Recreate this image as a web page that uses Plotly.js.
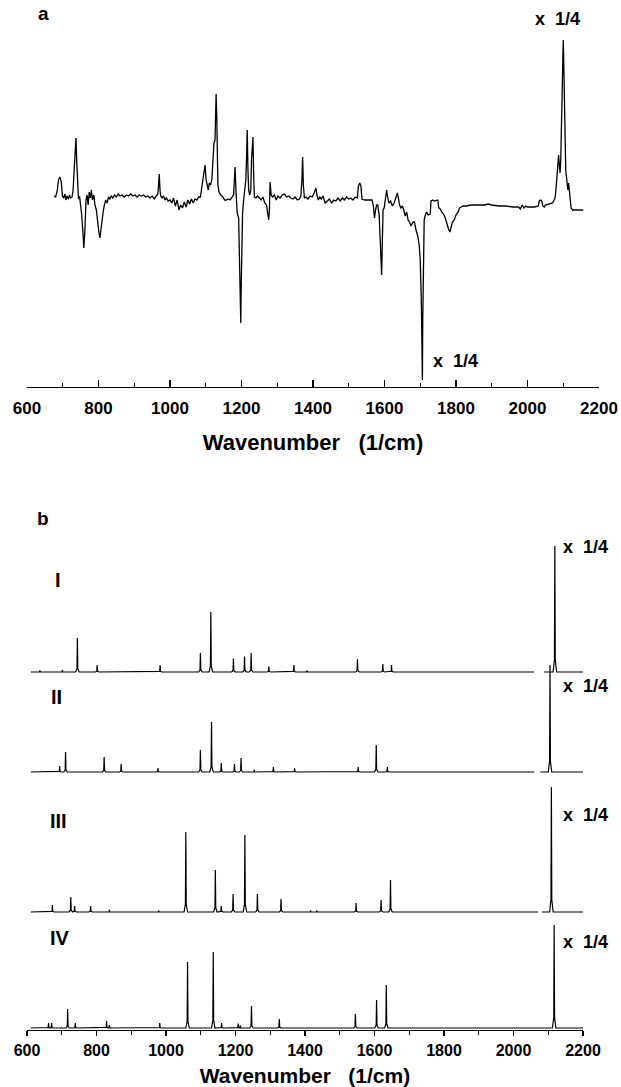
<!DOCTYPE html>
<html>
<head>
<meta charset="utf-8">
<script src="https://cdn.plot.ly/plotly-3.0.1.min.js"></script>
<style>
  html, body { margin: 0; padding: 0; background: #fff; }
  #chart { width: 621px; height: 1087px; }
</style>
</head>
<body>
<div id="chart"></div>
<script>
// ---------------- DATA ----------------
// Panel a: difference spectrum (wavenumber, signal in arbitrary units; baseline ~0)
const aWavenumber = [675,680,685,688,692,696,699,703,706,709,712,716,719,722,726,729,732,735,737,739,741,744,747,750,753,756,759,762,765,768,771,774,777,780,783,787,790,794,798,801,804,807,810,813,816,820,824,828,832,836,840,845,850,855,860,866,872,878,884,890,896,902,908,914,920,926,932,938,944,950,956,962,966,968,970,972,974,978,982,986,990,995,1000,1005,1010,1015,1020,1025,1030,1035,1040,1045,1050,1055,1060,1065,1070,1075,1080,1085,1090,1095,1098,1101,1104,1107,1110,1113,1117,1120,1123,1126,1128,1129,1131,1134,1137,1142,1148,1153,1158,1163,1168,1173,1178,1180,1182,1185,1188,1192,1195,1197,1198,1199,1201,1203,1206,1209,1212,1214,1216,1218,1220,1223,1226,1228,1230,1232,1234,1236,1240,1245,1250,1255,1260,1265,1270,1273,1276,1278,1280,1283,1287,1292,1297,1302,1308,1314,1320,1326,1332,1338,1344,1350,1356,1362,1366,1369,1371,1373,1376,1380,1386,1392,1398,1403,1406,1408,1411,1415,1419,1423,1428,1434,1440,1446,1452,1458,1464,1470,1476,1482,1488,1494,1500,1506,1512,1518,1524,1527,1531,1534,1537,1545,1555,1565,1569,1572,1575,1578,1581,1585,1588,1590,1592,1594,1596,1599,1602,1604,1606,1608,1612,1617,1622,1627,1632,1636,1639,1642,1646,1650,1654,1658,1662,1666,1670,1674,1680,1684,1688,1693,1697,1700,1703,1705,1706,1707,1709,1711,1714,1718,1722,1728,1730,1735,1740,1745,1749,1752,1756,1760,1765,1770,1775,1779,1783,1786,1790,1795,1800,1806,1810,1815,1820,1830,1840,1860,1880,1890,1900,1920,1940,1960,1975,1980,1985,1990,1995,2000,2010,2020,2030,2033,2037,2040,2043,2047,2050,2060,2070,2076,2078,2081,2083,2085,2087,2089,2091,2093,2095,2097,2099,2100,2101,2103,2105,2107,2109,2111,2113,2115,2117,2119,2122,2126,2140,2156];
const aSignal = [-1,-2,5,15,18,13,-1,-3,1,-5,-1,-4,0,-3,-2,5,25,45,57,35,10,-4,-1,-10,-20,-35,-53,-35,-5,0,-10,3,-3,5,-5,0,-10,-15,-30,-37,-43,-33,-23,-17,-11,-5,-8,-2,-4,-1,-3,0,-2,1,-1,0,-2,0,-1,1,-1,0,-2,0,-1,0,-2,-1,-3,-1,-4,-1,1,10,21,5,-1,-3,-1,-5,-3,-6,-5,-8,-3,-11,-5,-15,-10,-13,-7,-12,-5,-9,-4,-8,-4,-5,-2,-2,10,23,30,15,9,5,12,10,15,33,52,55,85,101,75,10,3,0,-2,-5,-5,-4,-5,-3,0,15,28,0,-18,-23,-65,-95,-128,-95,-55,-18,-5,5,15,35,65,25,5,0,5,35,57,58,20,-2,-3,-1,-3,-5,-2,-8,-10,-17,-25,-15,13,0,-2,0,-5,-1,-3,0,1,-2,-1,-3,-4,-2,-5,-4,-1,15,38,10,-3,-2,-4,-1,-2,2,5,7,0,-5,-2,-4,-1,-8,-6,-4,-8,-5,-6,-3,-6,-3,-5,-2,-4,-3,-5,-2,-3,9,12,9,-4,-5,-5,-5,-11,-23,-15,-10,-10,-20,-45,-70,-80,-45,-15,-13,-5,5,5,0,-8,-6,-11,-8,-3,2,-3,-10,-13,-11,-15,-21,-17,-25,-27,-31,-27,-27,-35,-41,-50,-65,-105,-145,-185,-125,-65,-25,-20,-17,-20,-19,-6,-5,-6,-5,-5,-13,-14,-17,-19,-23,-31,-34,-37,-33,-27,-25,-20,-17,-13,-12,-11,-11,-10,-10,-10,-9,-10,-11,-11,-12,-12,-14,-10,-13,-11,-12,-12,-12,-11,-6,-5,-6,-11,-12,-10,-9,-8,-4,-1,12,25,35,40,30,22,35,75,115,145,155,140,95,55,25,18,13,5,12,3,-5,-13,-15,-15,-15];

// Panel b: calculated spectra I-IV (peak positions in 1/cm, peak heights in arbitrary units)
const segI   = [611, 2059, 2088, 2205];
const peakI  = [637, 702, 745, 802, 983, 1099, 1129, 1194, 1226, 1245, 1296, 1368, 1406, 1551, 1624, 1649, 2119];
const hgtI   = [1.5, 2, 34, 7, 7, 19, 60, 13.5, 15.5, 19, 5.5, 7, 1.6, 12.7, 8, 7, 126];

const segII  = [611, 2060, 2077, 2205];
const peakII = [694, 711, 822, 871, 977, 1099, 1131, 1159, 1197, 1216, 1254, 1309, 1370, 1553, 1605, 1637, 2105];
const hgtII  = [6, 20, 15, 8, 4, 22, 50, 9, 8, 14, 2, 5, 4, 5, 27, 5, 107];

const segIII  = [611, 2071, 2082, 2200];
const peakIII = [673, 726, 737, 783, 837, 979, 1057, 1142, 1159, 1193, 1227, 1263, 1331, 1416, 1434, 1547, 1619, 1646, 2109];
const hgtIII  = [7, 15, 6, 6, 2, 1.6, 80, 42, 6, 18, 77, 18, 13, 1.6, 1.6, 9, 12, 32, 125];

const segIV  = [611, 2200];
const peakIV = [662, 671, 717, 739, 829, 837, 982, 1062, 1136, 1160, 1208, 1214, 1246, 1326, 1545, 1606, 1634, 2117];
const hgtIV  = [5, 5, 19, 5, 7, 3, 5, 66, 76, 5, 4.5, 2.5, 22, 9, 14, 28, 43, 103];

const tickVals  = [600, 800, 1000, 1200, 1400, 1600, 1800, 2000, 2200];
const tickText  = ['600', '800', '1000', '1200', '1400', '1600', '1800', '2000', '2200'];
const minorVals = [700, 900, 1100, 1300, 1500, 1700, 1900, 2100];
const axisTitle = 'Wavenumber\u00A0\u00A0\u00A0(1/cm)';
const rowLabels = ['I', 'II', 'III', 'IV'];
const scaleNote = 'x  1/4';

// ---------------- BUILD ----------------
const W = 621, H = 1087;
const FONT = 'Liberation Sans, Arial, Helvetica, sans-serif';
const fx = x => x / W;
const fy = y => 1 - y / H;

function spectrumLine(segs, pos, hts) {
  const xs = [], ys = [];
  for (let s = 0; s < segs.length; s += 2) {
    const a = segs[s], b = segs[s + 1];
    const pk = pos.map((p, i) => [p, hts[i]]).filter(d => d[0] > a && d[0] < b).sort((u, v) => u[0] - v[0]);
    xs.push(a); ys.push(0);
    pk.forEach(([p, h]) => {
      xs.push(p - 5, p - 1.2, p, p + 1.2, p + 5);
      ys.push(0, 0.1 * h, h, 0.1 * h, 0);
    });
    xs.push(b); ys.push(0);
    xs.push(null); ys.push(null);
  }
  return { xs, ys };
}

const lineStyle = { color: '#000', width: 1.2 };
const traces = [{
  x: aWavenumber, y: aSignal, type: 'scatter', mode: 'lines',
  line: { color: '#000', width: 1.3 }, xaxis: 'x', yaxis: 'y', hoverinfo: 'skip'
}];

const rows = [
  { segs: segI, pos: peakI, h: hgtI },
  { segs: segII, pos: peakII, h: hgtII },
  { segs: segIII, pos: peakIII, h: hgtIII },
  { segs: segIV, pos: peakIV, h: hgtIV }
];
rows.forEach((r, i) => {
  const s = spectrumLine(r.segs, r.pos, r.h);
  traces.push({
    x: s.xs, y: s.ys, type: 'scatter', mode: 'lines', connectgaps: false,
    line: lineStyle, xaxis: 'x2', yaxis: 'y' + (i + 2), hoverinfo: 'skip'
  });
});

// pixel geometry
const topAxisY = 387, topPlotTop = 30, topBase = 195;
const baselines = [672, 772, 912, 1028];
const rowSpan = 140;

const tickFont = { family: FONT, size: 17, color: '#000', weight: 'bold' };
const tickFontB = { family: FONT, size: 16, color: '#000', weight: 'bold' };
const titleFont = { family: FONT, size: 22, color: '#000', weight: 'bold' };
const titleFontB = { family: FONT, size: 21, color: '#000', weight: 'bold' };

const layout = {
  width: W, height: H,
  margin: { l: 0, r: 0, t: 0, b: 0 },
  paper_bgcolor: '#fff', plot_bgcolor: 'rgba(0,0,0,0)',
  showlegend: false,
  xaxis: {
    domain: [fx(27), fx(599)], range: [600, 2200], anchor: 'y',
    showline: true, linecolor: '#000', linewidth: 1.3,
    ticks: 'inside', ticklen: 7, tickwidth: 1.3, tickcolor: '#000',
    tickmode: 'array', tickvals: tickVals, ticktext: tickText, tickfont: tickFont,
    ticklabelstandoff: 5,
    minor: { tickmode: 'array', tickvals: minorVals, ticks: 'inside', ticklen: 4, tickwidth: 1.2, tickcolor: '#000', showgrid: false },
    showgrid: false, zeroline: false, fixedrange: true,
    title: { text: axisTitle, font: titleFont, standoff: 18 }
  },
  yaxis: {
    domain: [fy(topAxisY), fy(topPlotTop)],
    range: [topBase - topAxisY, topBase - topPlotTop],
    visible: false, fixedrange: true
  },
  xaxis2: {
    domain: [fx(27), fx(583)], range: [600, 2200], anchor: 'y5',
    showline: true, linecolor: '#000', linewidth: 1.3,
    ticks: 'outside', ticklen: 5, tickwidth: 1.3, tickcolor: '#000',
    tickmode: 'array', tickvals: tickVals, ticktext: tickText, tickfont: tickFontB,
    minor: { tickmode: 'array', tickvals: minorVals, ticks: 'outside', ticklen: 4, tickwidth: 1.2, tickcolor: '#000', showgrid: false },
    showgrid: false, zeroline: false, fixedrange: true,
    title: { text: axisTitle, font: titleFontB, standoff: 14 }
  },
  annotations: []
};

baselines.forEach((b, i) => {
  layout['yaxis' + (i + 2)] = {
    domain: [fy(b + 2), fy(b - rowSpan)],
    range: [-2, rowSpan],
    visible: false, fixedrange: true
  };
});

function note(text, x, y, size) {
  layout.annotations.push({
    text: text, xref: 'paper', yref: 'paper', x: fx(x), y: fy(y),
    xanchor: 'center', yanchor: 'middle', showarrow: false,
    font: { family: FONT, size: size, color: '#000', weight: 'bold' }
  });
}
note('a', 43, 13, 19);
note('b', 43, 518, 19);
note(scaleNote, 557, 19, 18);
note(scaleNote, 455, 361, 18);
const rowLabelPos = [[58, 580], [56, 697], [58, 821], [60, 938]];
rowLabels.forEach((t, i) => note(t, rowLabelPos[i][0], rowLabelPos[i][1], 20));
const notePos = [[585, 547], [585, 686], [585, 815], [585, 942]];
notePos.forEach(p => note(scaleNote, p[0], p[1], 18));

Plotly.newPlot('chart', traces, layout, { staticPlot: true, displayModeBar: false });
</script>
</body>
</html>
